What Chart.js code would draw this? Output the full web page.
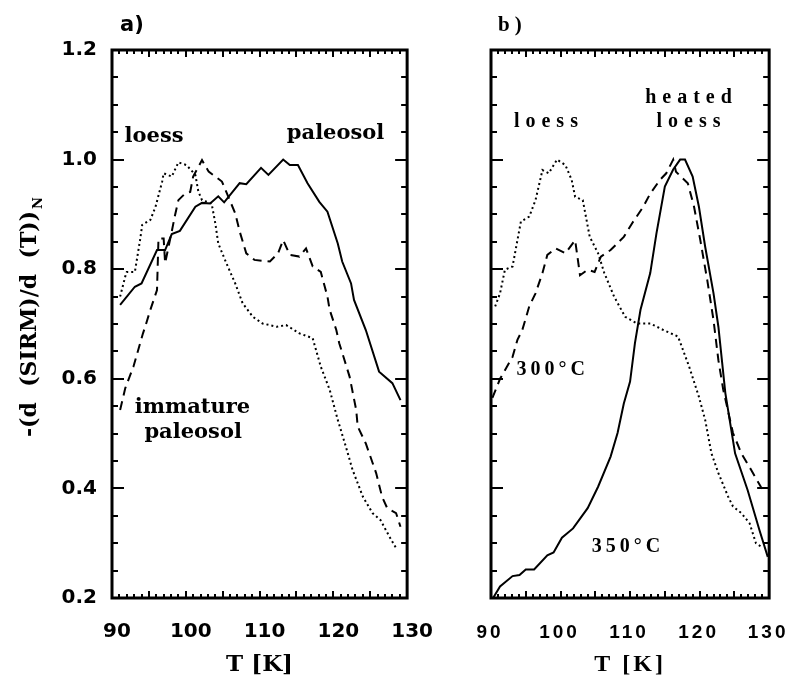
<!DOCTYPE html>
<html><head><meta charset="utf-8">
<script src="https://cdn.jsdelivr.net/npm/chart.js@4"></script>
<style>
html,body{margin:0;padding:0;background:#fff;}
#wrap{position:relative;width:808px;height:678px;overflow:hidden;background:#fff;}
#wrap > div{position:absolute;top:0;height:678px;}
</style></head><body>
<div id="wrap">
<div style="left:0;width:450px;"><canvas id="ca"></canvas></div>
<div style="left:450px;width:358px;"><canvas id="cb"></canvas></div>
</div>
<script>
// ---- tick values / labels ----
const xTickValues = [90, 100, 110, 120, 130];
const xTickLabelsA = ['90', '100', '110', '120', '130'];
const xTickLabelsB = ['90', '100', '110', '120', '130'];
const yTickValues = [0.2, 0.4, 0.6, 0.8, 1.0, 1.2];
const yTickLabels = ['0.2', '0.4', '0.6', '0.8', '1.0', '1.2'];

// ---- panel a) ----
const aPaleosolT = [91.1, 93.1, 94.0, 96.1, 97.2, 98.1, 99.2, 101.3, 102.2, 103.3, 104.4, 105.2, 107.3, 108.2, 110.2, 111.2, 113.2, 114.1, 115.2, 116.5, 118.1, 119.2, 120.6, 121.2, 122.4, 122.8, 124.4, 126.2, 128.0, 129.1];
const aPaleosolV = [0.735, 0.768, 0.774, 0.835, 0.835, 0.864, 0.870, 0.914, 0.921, 0.920, 0.933, 0.922, 0.957, 0.955, 0.985, 0.972, 1.000, 0.990, 0.990, 0.957, 0.923, 0.905, 0.847, 0.814, 0.774, 0.744, 0.689, 0.613, 0.592, 0.561];

const aImmatureT = [91.1, 91.8, 92.9, 94.2, 94.5, 95.2, 96.1, 96.3, 97.0, 97.2, 98.1, 98.5, 99.0, 99.9, 100.6, 101.0, 102.2, 103.1, 104.9, 106.7, 107.3, 108.2, 109.3, 111.4, 112.5, 113.2, 114.1, 115.4, 116.3, 117.2, 118.3, 119.2, 119.5, 120.4, 120.8, 122.2, 123.1, 123.3, 124.4, 125.8, 126.6, 127.3, 128.5, 129.1];
const aImmatureV = [0.543, 0.583, 0.622, 0.683, 0.695, 0.726, 0.762, 0.856, 0.856, 0.811, 0.869, 0.896, 0.926, 0.938, 0.941, 0.969, 0.999, 0.978, 0.960, 0.902, 0.869, 0.829, 0.817, 0.814, 0.829, 0.853, 0.826, 0.823, 0.838, 0.805, 0.795, 0.750, 0.726, 0.689, 0.665, 0.604, 0.543, 0.513, 0.482, 0.428, 0.385, 0.364, 0.355, 0.330];

const aLoessT = [91.1, 91.8, 92.0, 93.1, 93.8, 94.1, 95.2, 95.9, 96.8, 97.0, 98.1, 99.0, 100.1, 101.3, 101.7, 102.2, 103.5, 104.0, 104.4, 105.5, 106.7, 107.7, 109.1, 110.4, 112.3, 113.6, 115.4, 117.2, 118.3, 119.5, 120.6, 121.7, 122.6, 124.0, 125.3, 126.4, 127.6, 128.5];
const aLoessV = [0.750, 0.787, 0.795, 0.795, 0.853, 0.881, 0.890, 0.914, 0.960, 0.975, 0.969, 0.995, 0.990, 0.972, 0.942, 0.926, 0.920, 0.884, 0.847, 0.811, 0.774, 0.738, 0.713, 0.701, 0.695, 0.698, 0.683, 0.674, 0.622, 0.580, 0.525, 0.476, 0.434, 0.385, 0.355, 0.342, 0.312, 0.291];

// ---- panel b) ----
const bLoessT = [90.6, 91.3, 92.0, 93.1, 94.3, 95.5, 96.4, 97.4, 98.3, 99.5, 100.7, 101.6, 102.1, 103.2, 104.2, 105.4, 106.3, 107.7, 109.3, 111.0, 112.9, 114.8, 116.9, 118.5, 119.9, 120.8, 121.7, 122.7, 124.1, 124.8, 126.0, 127.2, 128.1, 128.8];
const bLoessV = [0.732, 0.756, 0.799, 0.805, 0.887, 0.896, 0.926, 0.981, 0.975, 1.000, 0.990, 0.963, 0.932, 0.926, 0.859, 0.829, 0.793, 0.750, 0.713, 0.701, 0.701, 0.689, 0.677, 0.622, 0.567, 0.525, 0.464, 0.428, 0.385, 0.367, 0.355, 0.336, 0.300, 0.294];

const b300T = [90.2, 91.3, 93.1, 93.8, 94.5, 95.5, 96.4, 97.4, 98.1, 99.3, 100.7, 102.1, 102.8, 103.9, 104.9, 105.8, 107.2, 109.1, 110.3, 111.9, 112.9, 114.3, 115.2, 116.2, 116.6, 117.3, 118.3, 119.2, 120.1, 121.1, 122.0, 122.7, 123.4, 124.8, 126.0, 127.4, 128.8, 129.3];
const b300V = [0.565, 0.600, 0.640, 0.671, 0.689, 0.732, 0.756, 0.793, 0.826, 0.838, 0.829, 0.853, 0.789, 0.799, 0.795, 0.823, 0.835, 0.859, 0.884, 0.914, 0.938, 0.963, 0.975, 1.000, 0.978, 0.969, 0.957, 0.914, 0.853, 0.780, 0.707, 0.634, 0.580, 0.501, 0.464, 0.434, 0.403, 0.395];

const b350T = [90.3, 91.3, 93.1, 94.1, 95.0, 96.2, 98.1, 99.0, 100.2, 101.8, 103.9, 105.4, 107.2, 108.2, 109.1, 110.0, 110.7, 111.5, 112.9, 113.8, 115.0, 116.2, 117.2, 117.9, 119.0, 119.9, 120.8, 122.0, 122.7, 123.7, 125.1, 126.9, 128.6, 129.8];
const b350V = [0.200, 0.221, 0.240, 0.242, 0.252, 0.252, 0.278, 0.283, 0.310, 0.327, 0.364, 0.403, 0.458, 0.501, 0.555, 0.595, 0.665, 0.726, 0.793, 0.866, 0.951, 0.982, 1.000, 1.000, 0.969, 0.914, 0.841, 0.756, 0.695, 0.574, 0.464, 0.397, 0.324, 0.275];

// ---- annotation texts (positions in data units) ----
const annotA = [
  {text: 'loess', x: 95.7, y: 1.033},
  {text: 'paleosol', x: 120.3, y: 1.037},
  {text: 'immature', x: 100.9, y: 0.538},
  {text: 'paleosol', x: 101.0, y: 0.492}
];
const annotB = [
  {text: 'loess', x: 97.9, y: 1.059, sp: 6},
  {text: 'heated', x: 118.4, y: 1.103, sp: 6},
  {text: 'loess', x: 118.4, y: 1.059, sp: 6},
  {text: '300°C', x: 98.6, y: 0.607, sp: 4},
  {text: '350°C', x: 109.4, y: 0.284, sp: 4}
];

function ds(label, T, V, dash) {
  return {
    label: label,
    data: T.map((t, i) => ({x: t, y: V[i]})),
    borderColor: '#000', backgroundColor: '#000', borderWidth: 2,
    borderDash: dash, pointRadius: 0, tension: 0, fill: false
  };
}

function drawFrameTicks(chart) {
  const ctx = chart.ctx;
  const {left, right, top, bottom} = chart.chartArea;
  const xs = chart.scales.x, ys = chart.scales.y;
  ctx.save();
  ctx.letterSpacing = '0px';
  ctx.strokeStyle = '#000';
  ctx.lineCap = 'butt';
  ctx.lineWidth = 2;
  ctx.beginPath();
  for (let t = 90; t <= 130; t++) {
    const px = Math.round(xs.getPixelForValue(t)) + 0.0;
    const len = (t % 5 === 0) ? 7 : 4;
    ctx.moveTo(px, bottom); ctx.lineTo(px, bottom - len);
    ctx.moveTo(px, top); ctx.lineTo(px, top + len);
  }
  for (let i = 0; i <= 20; i++) {
    const py = Math.round(ys.getPixelForValue(0.2 + i * 0.05));
    const len = (i % 4 === 0) ? 12 : 6;
    ctx.moveTo(left, py); ctx.lineTo(left + len, py);
    ctx.moveTo(right, py); ctx.lineTo(right - len, py);
  }
  ctx.stroke();
  ctx.lineWidth = 3;
  ctx.strokeRect(left, top, right - left, bottom - top);
  ctx.restore();
}

const decorA = {
  id: 'decorA',
  afterDraw(chart) {
    drawFrameTicks(chart);
    const ctx = chart.ctx;
    const xs = chart.scales.x, ys = chart.scales.y;
    ctx.save();
    ctx.fillStyle = '#000';
    ctx.font = 'bold 21px "DejaVu Serif"';
    ctx.textAlign = 'center';
    ctx.textBaseline = 'alphabetic';
    annotA.forEach(a => ctx.fillText(a.text, xs.getPixelForValue(a.x), ys.getPixelForValue(a.y)));
    // panel tag
    ctx.font = 'bold 21px "DejaVu Sans"';
    ctx.textAlign = 'left';
    ctx.fillText('a)', chart.chartArea.left + 8, 31);
    // subscript N of the y title
    const t = ys.options.title;
    const tf = Chart.helpers.toFont(t.font);
    ctx.font = tf.string;
    const w = ctx.measureText(t.text).width;
    const cx = ys.left + t.padding.top + tf.lineHeight / 2;
    const cy = (ys.top + ys.bottom) / 2;
    ctx.translate(cx, cy);
    ctx.rotate(-Math.PI / 2);
    ctx.font = 'bold 13px "DejaVu Serif"';
    ctx.textBaseline = 'middle';
    ctx.fillText('N', w / 2 + 2, 8);
    ctx.restore();
  }
};

const decorB = {
  id: 'decorB',
  beforeDraw(chart) { chart.ctx.letterSpacing = '3px'; },
  afterDraw(chart) {
    drawFrameTicks(chart);
    const ctx = chart.ctx;
    const xs = chart.scales.x, ys = chart.scales.y;
    ctx.save();
    ctx.fillStyle = '#000';
    ctx.font = 'bold 20px "Liberation Serif"';
    ctx.textAlign = 'left';
    ctx.textBaseline = 'alphabetic';
    annotB.forEach(a => {
      ctx.letterSpacing = a.sp + 'px';
      const w = ctx.measureText(a.text).width - a.sp;
      ctx.fillText(a.text, xs.getPixelForValue(a.x) - w / 2, ys.getPixelForValue(a.y));
    });
    ctx.letterSpacing = '5px';
    ctx.font = 'bold 21px "Liberation Serif"';
    ctx.fillText('b)', chart.chartArea.left + 7, 31);
    ctx.restore();
  }
};

const common = {
  responsive: true, maintainAspectRatio: false, animation: false,
  devicePixelRatio: 1, events: [],
  plugins: {legend: {display: false}, tooltip: {enabled: false}, title: {display: false}}
};

new Chart(document.getElementById('ca'), {
  type: 'line',
  data: {datasets: [
    ds('paleosol', aPaleosolT, aPaleosolV, []),
    ds('immature paleosol', aImmatureT, aImmatureV, [9, 6]),
    ds('loess', aLoessT, aLoessV, [2, 3])
  ]},
  options: Object.assign({}, common, {
    layout: {padding: {top: 50, right: 42, bottom: 0, left: 0}},
    scales: {
      x: {
        type: 'linear', min: 90, max: 130, position: 'bottom',
        grid: {display: false, drawTicks: false}, border: {display: false},
        afterBuildTicks: s => { s.ticks = xTickValues.map(v => ({value: v})); },
        ticks: {
          callback: (v, i) => xTickLabelsA[i],
          font: {family: 'DejaVu Sans', weight: 'bold', size: 20},
          color: '#000', padding: 22, labelOffset: 5, maxRotation: 0, autoSkip: false
        },
        title: {display: true, text: 'T [K]', color: '#000', padding: 0,
          font: {family: 'DejaVu Serif', weight: 'bold', size: 23, lineHeight: 1.1}},
        afterFit: s => { s.height = 80; }
      },
      y: {
        type: 'linear', min: 0.2, max: 1.2, position: 'left',
        grid: {display: false, drawTicks: false}, border: {display: false},
        afterBuildTicks: s => { s.ticks = yTickValues.map(v => ({value: v})); },
        ticks: {
          callback: (v, i) => yTickLabels[i],
          font: {family: 'DejaVu Sans', weight: 'bold', size: 20},
          color: '#000', padding: 15, autoSkip: false
        },
        title: {display: true, text: '-(d  (SIRM)/d  (T))', color: '#000',
          padding: {top: 17, bottom: 0},
          font: {family: 'DejaVu Serif', weight: 'bold', size: 22, lineHeight: 1.2}},
        afterFit: s => { s.width = 112; }
      }
    }
  }),
  plugins: [decorA]
});

new Chart(document.getElementById('cb'), {
  type: 'line',
  data: {datasets: [
    ds('350°C', b350T, b350V, []),
    ds('300°C', b300T, b300V, [9, 6]),
    ds('loess', bLoessT, bLoessV, [2, 3])
  ]},
  options: Object.assign({}, common, {
    layout: {padding: {top: 50, right: 33, bottom: 0, left: 41}},
    scales: {
      x: {
        type: 'linear', min: 90, max: 130, position: 'bottom',
        grid: {display: false, drawTicks: false}, border: {display: false},
        afterBuildTicks: s => { s.ticks = xTickValues.map(v => ({value: v})); },
        ticks: {
          callback: (v, i) => xTickLabelsB[i],
          font: {family: 'Liberation Sans', weight: 'bold', size: 19},
          color: '#000', padding: 23, labelOffset: -1, maxRotation: 0, autoSkip: false
        },
        title: {display: true, text: 'T [K]', color: '#000', padding: 0,
          font: {family: 'Liberation Serif', weight: 'bold', size: 24, lineHeight: 1.1}},
        afterFit: s => { s.height = 80; }
      },
      y: {type: 'linear', min: 0.2, max: 1.2, display: false}
    }
  }),
  plugins: [decorB]
});
</script>
</body></html>
